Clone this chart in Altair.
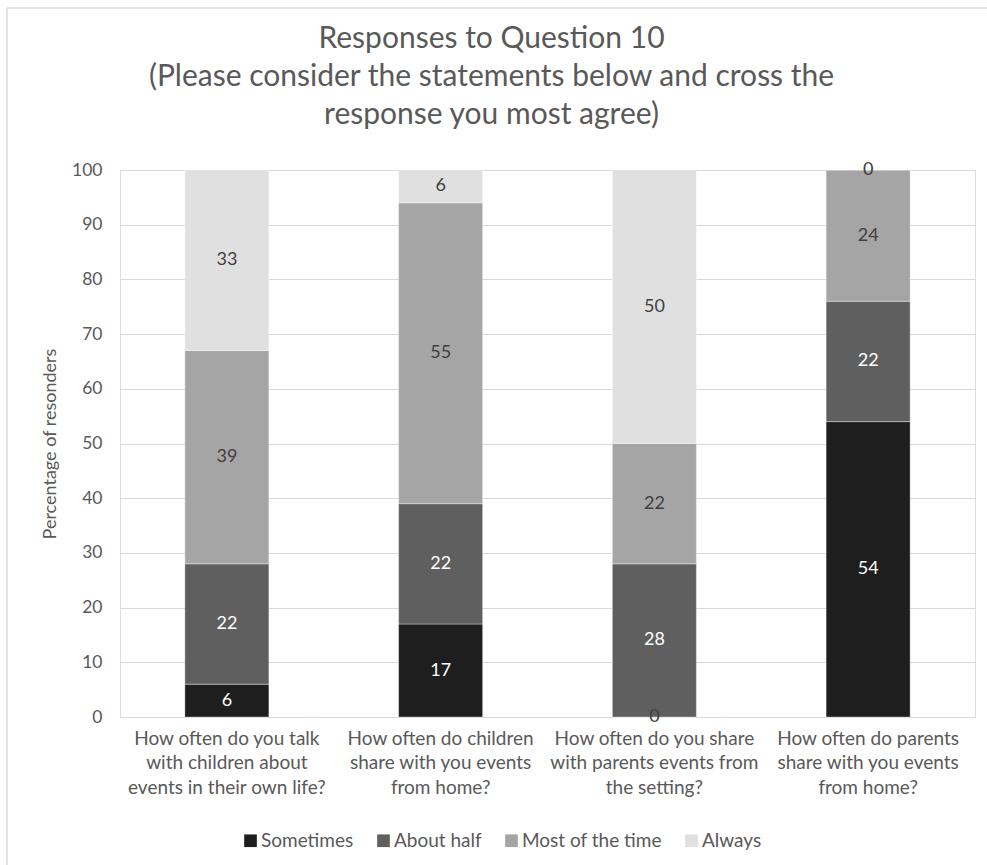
import altair as alt
import pandas as pd

# Survey questions (line breaks mark where the axis labels wrap)
questions = [
    "How often do you talk\nwith children about\nevents in their own life?",
    "How often do children\nshare with you events\nfrom home?",
    "How often do you share\nwith parents events from\nthe setting?",
    "How often do parents\nshare with you events\nfrom home?",
]
responses = ["Sometimes", "About half", "Most of the time", "Always"]

# Percentage of responders per answer, one value per question
sometimes = [6, 17, 0, 54]
about_half = [22, 22, 28, 22]
most_of_the_time = [39, 55, 22, 24]
always = [33, 6, 50, 0]

colors = ["#1e1e1e", "#5f5f5f", "#a5a5a5", "#e0e0e0"]
y_ticks = list(range(0, 101, 10))

series = [sometimes, about_half, most_of_the_time, always]
rows = []
for rank, (resp, vals) in enumerate(zip(responses, series)):
    for q, v in zip(questions, vals):
        rows.append({"question": q, "response": resp, "value": v, "rank": rank})
df = pd.DataFrame(rows)

FONT = "Lato"
GREY_TEXT = "#595959"

x_enc = alt.X(
    "question:N",
    sort=questions,
    scale=alt.Scale(paddingInner=0.607, paddingOuter=0.3035),
    axis=alt.Axis(
        title=None,
        labelAngle=0,
        labelExpr="split(datum.label, '\\n')",
        labelLineHeight=24.5,
        labelPadding=12,
        labelFontSize=19,
        labelLimit=0,
        labelColor=GREY_TEXT,
        labelFont=FONT,
        ticks=False,
        domainColor="#d9d9d9",
        domainWidth=1.2,
        grid=False,
    ),
)

base = alt.Chart(df)

bars = base.mark_bar(stroke="white", strokeWidth=0.7, strokeOpacity=0.5).encode(
    x=x_enc,
    y=alt.Y(
        "value:Q",
        stack="zero",
        scale=alt.Scale(domain=[0, 100], nice=False),
        axis=alt.Axis(
            values=y_ticks,
            title="Percentage of resonders",
            titleFont=FONT,
            titleFontSize=18,
            titleFontWeight="normal",
            titleColor=GREY_TEXT,
            titlePadding=12,
            labelFont=FONT,
            labelFontSize=17.5,
            labelColor=GREY_TEXT,
            labelPadding=18,
            ticks=False,
            domain=False,
            gridColor="#d9d9d9",
            gridWidth=1.2,
        ),
    ),
    color=alt.Color(
        "response:N",
        sort=responses,
        scale=alt.Scale(domain=responses, range=colors),
        legend=alt.Legend(
            title=None,
            orient="none",
            direction="horizontal",
            legendX=121,
            legendY=661,
            symbolType="square",
            symbolSize=160,
            symbolStrokeWidth=0,
            labelFont=FONT,
            labelFontSize=19,
            labelColor=GREY_TEXT,
            labelOffset=1,
            columnPadding=20,
        ),
    ),
    order=alt.Order("rank:Q", sort="ascending"),
)

labels = (
    base.transform_stack(
        stack="value",
        groupby=["question"],
        sort=[alt.SortField("rank", order="ascending")],
        as_=["y0", "y1"],
    )
    .transform_calculate(mid="(datum.y0 + datum.y1) / 2")
    .mark_text(font=FONT, fontSize=18, baseline="middle")
    .encode(
        x=alt.X("question:N", sort=questions),
        y=alt.Y("mid:Q"),
        text=alt.Text("value:Q"),
        color=alt.condition(
            "datum.value == 0 || datum.rank >= 2",
            alt.value("#404040"),
            alt.value("white"),
        ),
    )
)

# Outer chart frame
frame_data = alt.Data(values=[{}])
frame_left = alt.Chart(frame_data).mark_rule(color="#d9d9d9", strokeWidth=1.5).encode(
    x=alt.value(-113), y=alt.value(-162), y2=alt.value(700)
)
frame_top = alt.Chart(frame_data).mark_rule(color="#d9d9d9", strokeWidth=1.5).encode(
    x=alt.value(-113), x2=alt.value(870), y=alt.value(-162)
)

chart = (
    alt.layer(bars, labels, frame_left, frame_top)
    .properties(
        width=855,
        height=547,
        title=alt.Title(
            text=[
                "Responses to Question 10",
                "(Please consider the statements below and cross the",
                "response you most agree)",
            ],
            font=FONT,
            fontSize=30,
            fontWeight="normal",
            color=GREY_TEXT,
            lineHeight=38,
            anchor="middle",
            dx=-56,
            offset=-123,
        ),
        autosize=alt.AutoSizeParams(type="none"),
        padding={"left": 120, "top": 170, "right": 12, "bottom": 148},
    )
    .configure_view(stroke=None)
    .configure(background="white")
)

chart.save("out.html", embed_options={"renderer": "svg", "actions": False})
